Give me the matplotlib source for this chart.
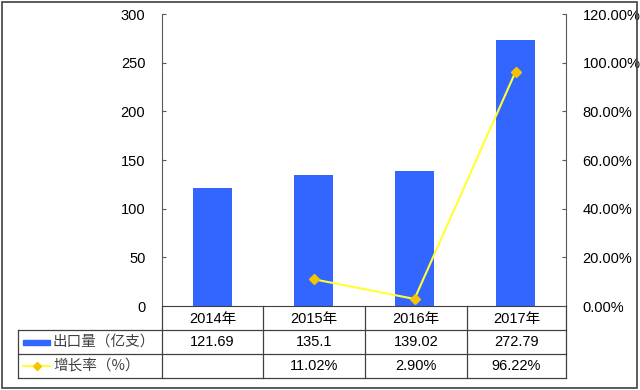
import matplotlib
matplotlib.use("Agg")
import matplotlib.pyplot as plt
from matplotlib.lines import Line2D
from matplotlib.patches import Rectangle

plt.rcParams['font.family'] = ['Liberation Sans', 'Noto Sans CJK SC', 'DejaVu Sans']

categories = ['2014年', '2015年', '2016年', '2017年']
exports = [121.69, 135.1, 139.02, 272.79]
growth = [None, 11.02, 2.90, 96.22]
series_names = ['出口量（亿支）', '增长率（%）']
left_ticks = [0, 50, 100, 150, 200, 250, 300]
right_ticks = [0, 20, 40, 60, 80, 100, 120]

W, H = 640, 390
fig = plt.figure(figsize=(6.4, 3.9), dpi=100)
fig.patch.set_facecolor('white')

def fx(px):
    return px / W

def fy(py):
    return 1 - py / H

x0, x1 = 162, 566
y_top, y_bot = 14, 306
ax = fig.add_axes([fx(x0), fy(y_bot), fx(x1) - fx(x0), fy(y_top) - fy(y_bot)])
bar_color = '#3366FF'
line_color = '#FFFF33'
marker_color = '#F5C400'
xs = list(range(len(categories)))
ax.bar(xs, exports, width=0.39, color=bar_color, zorder=2)
ax.set_xlim(-0.5, len(categories) - 0.5)
ax.set_ylim(0, 300)
ax.set_yticks(left_ticks)
ax.set_yticklabels([str(t) for t in left_ticks], fontsize=10.5)
ax.set_xticks([])
ax.spines['top'].set_visible(False)
ax.spines['left'].set_color('#595959')
ax.spines['right'].set_visible(False)
ax.spines['bottom'].set_color('#404040')
ax.tick_params(axis='y', direction='in', length=3, color='#595959', pad=12)

ax2 = ax.twinx()
gx = [x for x, g in zip(xs, growth) if g is not None]
gy = [g for g in growth if g is not None]
ax2.plot(gx, gy, color=line_color, lw=1.5, marker='D', markersize=5,
         markerfacecolor=marker_color, markeredgecolor=marker_color, zorder=3)
ax2.set_ylim(0, 120)
ax2.set_yticks(right_ticks)
ax2.set_yticklabels([f'{t:.2f}%' for t in right_ticks], fontsize=10.5)
ax2.spines['top'].set_visible(False)
ax2.spines['left'].set_visible(False)
ax2.spines['bottom'].set_visible(False)
ax2.spines['right'].set_color('#595959')
ax2.tick_params(axis='y', direction='in', length=3, color='#595959', pad=12)

# Data table
col_edges = [162, 263, 365, 467, 566]
row_edges = [306, 330, 354, 378]
tbl_left = 18
lc = '#404040'
lw = 0.9

def hline(y, xa, xb):
    fig.add_artist(Line2D([fx(xa), fx(xb)], [fy(y), fy(y)], color=lc, lw=lw))

def vline(x, ya, yb):
    fig.add_artist(Line2D([fx(x), fx(x)], [fy(ya), fy(yb)], color=lc, lw=lw))

hline(row_edges[1], tbl_left, col_edges[-1])
hline(row_edges[2], tbl_left, col_edges[-1])
hline(row_edges[3], tbl_left, col_edges[-1])
vline(tbl_left, row_edges[1], row_edges[3])
for xe in col_edges:
    vline(xe, row_edges[0], row_edges[3])

fs = 10.5
for i, c in enumerate(categories):
    cx = (col_edges[i] + col_edges[i + 1]) / 2
    fig.text(fx(cx), fy((row_edges[0] + row_edges[1]) / 2 + 1), c, ha='center', va='center', fontsize=fs,
             family=['Liberation Sans', 'Noto Sans CJK SC'])
    fig.text(fx(cx), fy((row_edges[1] + row_edges[2]) / 2), f'{exports[i]:g}', ha='center', va='center', fontsize=fs)
    if growth[i] is not None:
        fig.text(fx(cx), fy((row_edges[2] + row_edges[3]) / 2), f'{growth[i]:.2f}%', ha='center', va='center', fontsize=fs)

# legend keys in row headers
ry1 = (row_edges[1] + row_edges[2]) / 2
fig.add_artist(Rectangle((fx(23), fy(ry1 + 2.5)), fx(50) - fx(23), fy(ry1 - 2.5) - fy(ry1 + 2.5), color=bar_color))
fig.text(fx(53), fy(ry1), series_names[0], ha='left', va='center', fontsize=fs, color='#404040',
         family=['Noto Sans CJK SC', 'DejaVu Sans'])
ry2 = (row_edges[2] + row_edges[3]) / 2
fig.add_artist(Line2D([fx(23), fx(50)], [fy(ry2), fy(ry2)], color=line_color, lw=1.5))
fig.add_artist(Line2D([fx(36.5)], [fy(ry2)], marker='D', markersize=4, color=marker_color, lw=0))
fig.text(fx(53), fy(ry2), series_names[1], ha='left', va='center', fontsize=fs, color='#404040',
         family=['Noto Sans CJK SC', 'DejaVu Sans'])

# outer border
fig.add_artist(Rectangle((fx(1.5), fy(388)), fx(637) - fx(1.5), fy(1.5) - fy(388), fill=False, ec='#404040', lw=1.2))

fig.savefig('out.png', dpi=100)
